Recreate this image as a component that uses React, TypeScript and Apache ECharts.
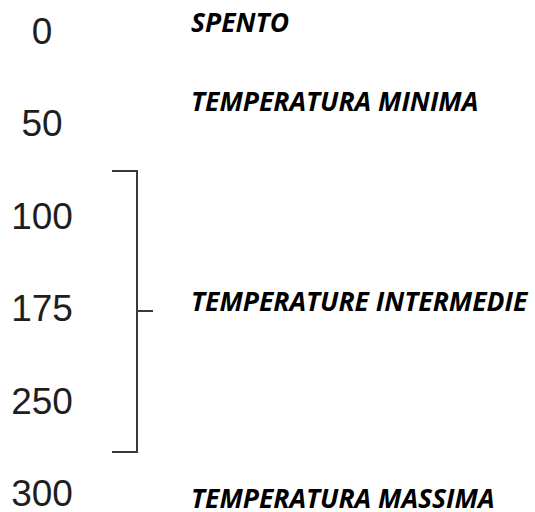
import React, { useEffect, useRef } from "react";
import * as echarts from "echarts";

const levels = ["0", "50", "100", "175", "250", "300"];
const descriptions = [
  "SPENTO",
  "TEMPERATURA MINIMA",
  "TEMPERATURE INTERMEDIE",
  "TEMPERATURA MASSIMA",
];
// vertical centers of each description (px)
const descriptionY = [22, 101, 301, 498];

export default function App() {
  const ref = useRef<HTMLDivElement>(null);
  useEffect(() => {
    document.body.style.margin = "0";
    const chart = echarts.init(ref.current!, null, { renderer: "svg" });
    const lineColor = "#3a3a3a";
    chart.setOption({
      animation: false,
      backgroundColor: "#ffffff",
      grid: { left: 100, right: 20, top: 31, bottom: 16 },
      xAxis: { type: "value", show: false, min: 0, max: 1 },
      yAxis: {
        type: "category",
        inverse: true,
        boundaryGap: false,
        data: levels,
        axisLine: { show: false },
        axisTick: { show: false },
        splitLine: { show: false },
        axisLabel: {
          align: "center",
          margin: 58,
          fontFamily: "Liberation Sans",
          fontSize: 37,
          lineHeight: 28,
          color: "#1e1e1e",
        },
      },
      series: [{ type: "line", data: [], silent: true }],
      graphic: [
        ...descriptions.map((t, i) => ({
          type: "text",
          x: 191,
          y: descriptionY[i],
          style: {
            text: t,
            fontFamily: "Open Sans",
            fontWeight: "bold",
            fontStyle: "italic",
            fontSize: 26.5,
            lineHeight: 20,
            fill: "#000",
            verticalAlign: "middle",
            align: "left",
          },
        })),
        {
          type: "polyline",
          shape: {
            points: [
              [112, 171],
              [137, 171],
              [137, 452],
              [112, 452],
            ],
          },
          style: { stroke: lineColor, lineWidth: 2, fill: "none" },
        },
        {
          type: "line",
          shape: { x1: 137, y1: 311, x2: 153, y2: 311 },
          style: { stroke: lineColor, lineWidth: 2 },
        },
      ],
    });
    return () => chart.dispose();
  }, []);
  return <div ref={ref} style={{ width: 535, height: 512 }} />;
}
